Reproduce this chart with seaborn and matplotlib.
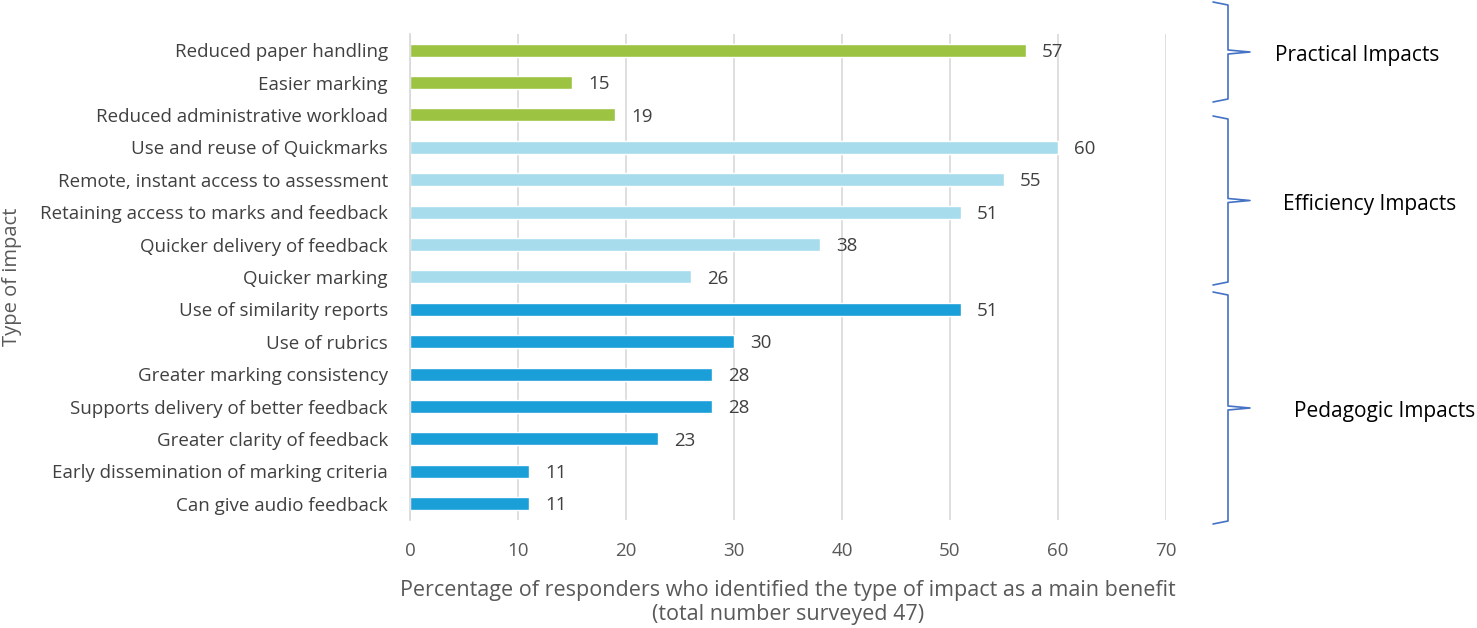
import pandas as pd
import matplotlib.pyplot as plt
import seaborn as sns
from matplotlib.lines import Line2D

impacts = [
    "Reduced paper handling", "Easier marking", "Reduced administrative workload",
    "Use and reuse of Quickmarks", "Remote, instant access to assessment",
    "Retaining access to marks and feedback", "Quicker delivery of feedback",
    "Quicker marking", "Use of similarity reports", "Use of rubrics",
    "Greater marking consistency", "Supports delivery of better feedback",
    "Greater clarity of feedback", "Early dissemination of marking criteria",
    "Can give audio feedback",
]
percent = [57, 15, 19, 60, 55, 51, 38, 26, 51, 30, 28, 28, 23, 11, 11]
groups = ["Practical"] * 3 + ["Efficiency"] * 5 + ["Pedagogic"] * 7
group_labels = ["Practical Impacts", "Efficiency Impacts", "Pedagogic Impacts"]
palette = {"Practical": "#9dc343", "Efficiency": "#a6dcec", "Pedagogic": "#1a9fd9"}

df = pd.DataFrame({"impact": impacts, "percent": percent, "group": groups})

sns.set_theme(style="white")
plt.rcParams["font.family"] = ["Open Sans", "DejaVu Sans"]
text_col = "#595959"

fig = plt.figure(figsize=(14.77, 6.28), dpi=100)
ax = fig.add_axes([0.2776, 0.172, 0.5118, 0.774])

sns.barplot(data=df, y="impact", x="percent", hue="group", palette=palette,
            dodge=False, width=0.4, saturation=1, legend=False, ax=ax)

ax.set_xlim(0, 70)
ax.set_ylim(14.5, -0.5)
ax.set_xticks(range(0, 80, 10))
ax.grid(axis="x", color="#d9d9d9", linewidth=1.2)
ax.set_axisbelow(True)
for s in ["top", "right", "bottom"]:
    ax.spines[s].set_visible(False)
ax.spines["left"].set_color("#d9d9d9")
ax.tick_params(axis="y", labelsize=13.5, labelcolor="#404040", pad=16, length=0)
ax.tick_params(axis="x", labelsize=13.5, labelcolor=text_col, pad=16, length=0)
ax.set_ylabel("Type of impact", fontsize=14.5, color=text_col)
ax.yaxis.set_label_coords(-0.513, 0.5)
ax.set_xlabel("Percentage of responders who identified the type of impact as a main benefit\n(total number surveyed 47)",
              fontsize=15.5, color=text_col, labelpad=14, linespacing=1.2)

for i, v in enumerate(percent):
    ax.text(v + 1.5, i + 0.05, str(v), va="center", ha="left", fontsize=13.5, color="#404040")

# group brackets (figure pixel coords)
W, H = 1477, 628
brace_col = "#4472c4"
brackets = [(2, 102), (116, 285), (292, 524)]
label_x = [1357, 1370, 1385]
for (y0, y1), lab, lx in zip(brackets, group_labels, label_x):
    ym = (y0 + y1) / 2
    xs = [1213, 1228, 1228, 1250, 1228, 1228, 1213]
    ys = [y0, y0 + 3, ym - 2, ym, ym + 2, y1 - 3, y1]
    fig.add_artist(Line2D([x / W for x in xs], [1 - y / H for y in ys],
                          color=brace_col, linewidth=1.2))
    fig.text(lx / W, 1 - (ym + 4) / H, lab, ha="center", va="center",
             fontsize=15, color="#000000")

fig.savefig("out.png", dpi=100)
